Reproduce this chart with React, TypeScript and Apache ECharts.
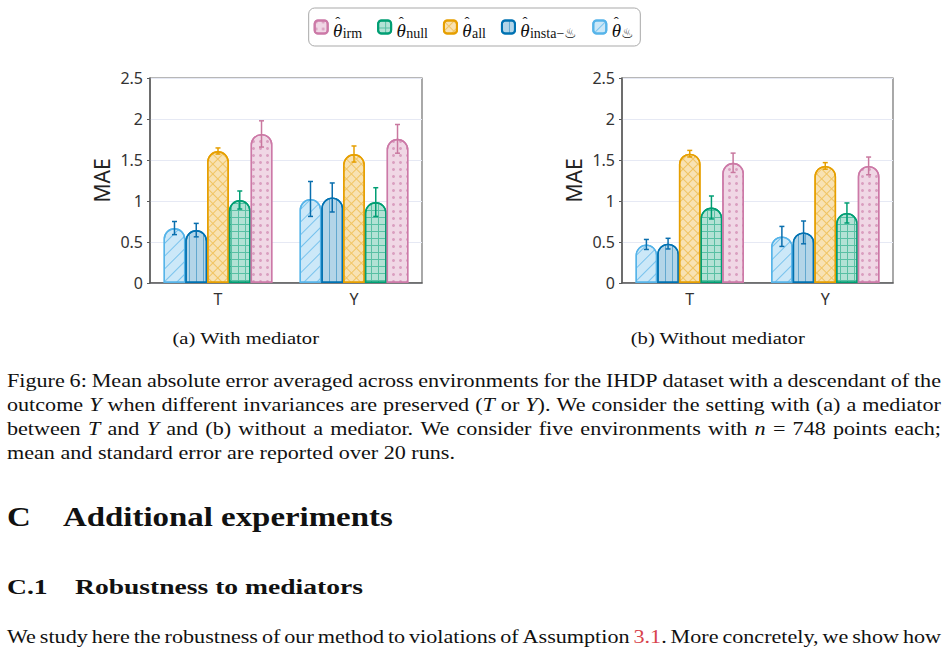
import React, { useEffect, useRef } from 'react';
import * as echarts from 'echarts';

// ---- data -------------------------------------------------------------
const categories = ['T', 'Y'];
// bar order inside each group, left to right
const methodNames = ['♨', 'insta−♨', 'all', 'null', 'irm'];
const legendOrder = ['irm', 'null', 'all', 'insta−♨', '♨'];
const yTickValues = [0, 0.5, 1, 1.5, 2, 2.5];

// (a) with mediator: mean MAE and standard error
const withMedPot = [0.67, 1.025];
const withMedInsta = [0.645, 1.043];
const withMedAll = [1.61, 1.573];
const withMedNull = [1.012, 0.987];
const withMedIrm = [1.818, 1.758];
const withMedPotErr = [0.08, 0.213];
const withMedInstaErr = [0.082, 0.177];
const withMedAllErr = [0.037, 0.098];
const withMedNullErr = [0.11, 0.175];
const withMedIrmErr = [0.16, 0.175];

// (b) without mediator
const noMedPot = [0.47, 0.568];
const noMedInsta = [0.48, 0.617];
const noMedAll = [1.577, 1.428];
const noMedNull = [0.921, 0.854];
const noMedIrm = [1.466, 1.428];
const noMedPotErr = [0.061, 0.122];
const noMedInstaErr = [0.065, 0.139];
const noMedAllErr = [0.04, 0.04];
const noMedNullErr = [0.14, 0.122];
const noMedIrmErr = [0.118, 0.108];

const subCaptions = ['(a) With mediator', '(b) Without mediator'];
// '*' toggles italic (math), '~' toggles link colour
const captionLines = [
  'Figure 6: Mean absolute error averaged across environments for the IHDP dataset with a descendant of the',
  'outcome *Y* when different invariances are preserved (*T* or *Y*). We consider the setting with (a) a mediator',
  'between *T* and *Y* and (b) without a mediator. We consider five environments with *n* = 748 points each;',
  'mean and standard error are reported over 20 runs.',
];
const sectionTitle = ['C', 'Additional experiments'];
const subsectionTitle = ['C.1', 'Robustness to mediators'];
const bodyLine =
  'We study here the robustness of our method to violations of Assumption ~3.1~. More concretely, we show how';

// ---- styling ------------------------------------------------------------
const lineColors = ['#56B4E9', '#0072B2', '#E69F00', '#009E73', '#CC79A7'];
const fillColors = ['#cce8f8', '#b3d5e8', '#f8e2b3', '#b3e2d5', '#f0d7e5'];
const errColors = ['#0a6fae', '#0a6fae', '#E69F00', '#009E73', '#c9789f'];
const decals: any[] = [
  { symbol: 'rect', symbolSize: 1, dashArrayX: [1, 0], dashArrayY: [1, 8], rotation: -Math.PI / 4, color: 'rgba(86,180,233,0.7)' },
  { symbol: 'rect', symbolSize: 1, dashArrayX: [1, 6], dashArrayY: [1, 0], color: 'rgba(0,114,178,0.45)' },
  { symbol: 'rect', symbolSize: 1, dashArrayX: [[7, 0], [1, 6]], dashArrayY: [1, 0, 6, 0], rotation: Math.PI / 4, color: 'rgba(230,159,0,0.45)' },
  { symbol: 'rect', symbolSize: 1, dashArrayX: [[7, 0], [1, 6]], dashArrayY: [1, 0, 6, 0], color: 'rgba(0,158,115,0.5)' },
  { symbol: 'circle', symbolSize: 1, dashArrayX: [3, 4], dashArrayY: [3, 4], color: 'rgba(204,121,167,0.6)' },
];

const SERIF = '"Liberation Serif", "Times New Roman", serif';
const SANS = '"Noto Sans", "Open Sans", sans-serif';

const grids = [
  { left: 150, top: 78, width: 272, height: 205 },
  { left: 622, top: 78, width: 271, height: 205 },
];

function fontStr(size: number, italic = false, bold = false) {
  return `${italic ? 'italic ' : ''}${bold ? 'bold ' : ''}${size}px ${SERIF}`;
}

type Run = { t: string; it: boolean; red: boolean };

function parseWords(line: string): Run[][] {
  let it = false;
  let red = false;
  return line.split(' ').map((word) => {
    const runs: Run[] = [];
    let cur = '';
    for (const ch of word) {
      if (ch === '*' || ch === '~') {
        if (cur) runs.push({ t: cur, it, red });
        cur = '';
        if (ch === '*') it = !it;
        else red = !red;
      } else cur += ch;
    }
    if (cur) runs.push({ t: cur, it, red });
    return runs;
  });
}

export default function App() {
  const ref = useRef<HTMLDivElement>(null);

  useEffect(() => {
    if (!ref.current) return;
    const chart = echarts.init(ref.current, undefined, { renderer: 'svg', width: 948, height: 649 });

    const ctx = document.createElement('canvas').getContext('2d')!;
    const measure = (t: string, font: string) => {
      ctx.font = font;
      return ctx.measureText(t).width;
    };

    const textEl = (t: string, x: number, y: number, font: string, sx: number, fill = '#111') => ({
      type: 'text',
      x,
      y,
      scaleX: sx,
      silent: true,
      style: { text: t, font, fill, align: 'left', verticalAlign: 'middle' },
    });

    const graphics: any[] = [];

    // paragraph lines, justified between x0 and x1
    const capSize = 19;
    const capSx = 448 / measure(captionLines[3], fontStr(capSize));
    const layoutLine = (line: string, y: number, justify: boolean) => {
      const words = parseWords(line);
      const widths = words.map((w) =>
        w.reduce((s, r) => s + measure(r.t, fontStr(capSize, r.it)) * capSx, 0)
      );
      const total = widths.reduce((a, b) => a + b, 0);
      const x0 = 7;
      const x1 = 941;
      const gap = justify ? (x1 - x0 - total) / (words.length - 1) : measure(' ', fontStr(capSize)) * capSx;
      let x = x0;
      words.forEach((w, i) => {
        let xx = x;
        w.forEach((r) => {
          const f = fontStr(capSize, r.it);
          graphics.push(textEl(r.t, xx, y, f, capSx, r.red ? '#d8434b' : '#111'));
          xx += measure(r.t, f) * capSx;
        });
        x += widths[i] + gap;
      });
    };
    const capY = [381, 405, 428.5, 452.5];
    captionLines.forEach((l, i) => layoutLine(l, capY[i], i < captionLines.length - 1));
    layoutLine(bodyLine, 637, true);

    // sub-captions below each panel
    const subSize = 17;
    const subSx = 147 / measure(subCaptions[0], fontStr(subSize));
    const subCenters = [246, 718];
    subCaptions.forEach((s, i) => {
      const w = measure(s, fontStr(subSize)) * subSx;
      graphics.push(textEl(s, subCenters[i] - w / 2, 338, fontStr(subSize), subSx));
    });

    // section headings
    const secFont = fontStr(28, false, true);
    const secSx = 330 / measure(sectionTitle[1], secFont);
    graphics.push(textEl(sectionTitle[0], 7, 516.5, secFont, secSx));
    graphics.push(textEl(sectionTitle[1], 63, 516.5, secFont, secSx));
    const subsecFont = fontStr(21, false, true);
    const subsecSx = 288 / measure(subsectionTitle[1], subsecFont);
    graphics.push(textEl(subsectionTitle[0], 7, 587, subsecFont, subsecSx));
    graphics.push(textEl(subsectionTitle[1], 75, 587, subsecFont, subsecSx));

    const panels = [
      {
        means: [withMedPot, withMedInsta, withMedAll, withMedNull, withMedIrm],
        errs: [withMedPotErr, withMedInstaErr, withMedAllErr, withMedNullErr, withMedIrmErr],
      },
      {
        means: [noMedPot, noMedInsta, noMedAll, noMedNull, noMedIrm],
        errs: [noMedPotErr, noMedInstaErr, noMedAllErr, noMedNullErr, noMedIrmErr],
      },
    ];

    const errRender = (params: any, api: any) => {
      const cat = api.value(0);
      const mean = api.value(1);
      const err = api.value(2);
      const k = api.value(3);
      const band = api.size([1, 0])[0];
      const groupW = band * 0.8;
      const bw = groupW / methodNames.length;
      const cx = api.coord([cat, 0])[0] - groupW / 2 + bw * (k + 0.5);
      const yTop = api.coord([cat, mean + err])[1];
      const yBot = api.coord([cat, mean - err])[1];
      const st = { stroke: errColors[k], lineWidth: 1.5 };
      return {
        type: 'group',
        children: [
          { type: 'line', shape: { x1: cx, y1: yTop, x2: cx, y2: yBot }, style: st },
          { type: 'line', shape: { x1: cx - 2.5, y1: yTop, x2: cx + 2.5, y2: yTop }, style: st },
          { type: 'line', shape: { x1: cx - 2.5, y1: yBot, x2: cx + 2.5, y2: yBot }, style: st },
        ],
      };
    };

    const series: any[] = [];
    panels.forEach((p, pi) => {
      methodNames.forEach((name, k) => {
        series.push({
          type: 'bar',
          name,
          xAxisIndex: pi,
          yAxisIndex: pi,
          data: p.means[k],
          barGap: '0%',
          barCategoryGap: '20%',
          itemStyle: {
            color: fillColors[k],
            borderColor: lineColors[k],
            borderWidth: 1.4,
            borderRadius: [10.8, 10.8, 0, 0],
            decal: decals[k],
          },
          emphasis: { disabled: true },
        });
      });
      const errData: number[][] = [];
      methodNames.forEach((_, k) => {
        categories.forEach((_c, ci) => errData.push([ci, p.means[k][ci], p.errs[k][ci], k]));
      });
      series.push({
        type: 'custom',
        xAxisIndex: pi,
        yAxisIndex: pi,
        z: 5,
        silent: true,
        data: errData,
        encode: { x: 0, y: 1 },
        renderItem: errRender,
      });
    });

    // legend label: theta with a hat stacked over it, then the subscript
    const legendRich = {
      sp: { align: 'center', width: 5, fontSize: 4 },
      th: { align: 'center', width: 0.01, fontFamily: SERIF, fontStyle: 'italic', fontSize: 19, color: '#111', lineHeight: 26, verticalAlign: 'bottom' },
      hat: { align: 'center', width: 0.01, fontFamily: SERIF, fontSize: 15, color: '#111', lineHeight: 17, verticalAlign: 'top' },
      sub: { align: 'center', fontFamily: SERIF, fontSize: 14, color: '#111', lineHeight: 15, verticalAlign: 'bottom' },
    };

    const axisColor = '#5a5a5a';
    const option: any = {
      animation: false,
      backgroundColor: '#ffffff',
      legend: {
        data: legendOrder,
        top: 8,
        left: 'center',
        icon: 'roundRect',
        itemWidth: 13,
        itemHeight: 13,
        itemGap: 15,
        padding: [6, 6, 6, 5],
        borderColor: '#a9a9a9',
        borderWidth: 1,
        borderRadius: 6,
        formatter: (name: string) => `{sp| }{th|θ}{hat|ˆ}{sp| }{sub|${name}}`,
        textStyle: { rich: legendRich },
      },
      grid: grids.map((g) => ({
        ...g,
        show: true,
        borderColor: '#707070',
        borderWidth: 1.2,
        backgroundColor: 'transparent',
      })),
      xAxis: grids.map((_, i) => ({
        gridIndex: i,
        type: 'category',
        data: categories,
        axisLine: { lineStyle: { color: axisColor, width: 1.5 } },
        axisTick: { alignWithLabel: true, length: 3, lineStyle: { color: axisColor } },
        axisLabel: { fontFamily: SANS, fontSize: 16, color: '#333', margin: 8 },
      })),
      yAxis: grids.map((_, i) => ({
        gridIndex: i,
        type: 'value',
        min: yTickValues[0],
        max: yTickValues[yTickValues.length - 1],
        interval: yTickValues[1] - yTickValues[0],
        name: 'MAE',
        nameLocation: 'middle',
        nameGap: 38,
        nameTextStyle: { fontFamily: SANS, fontSize: 21, color: '#222' },
        axisLine: { show: true, lineStyle: { color: axisColor, width: 1.5 } },
        axisTick: { show: true, length: 3, lineStyle: { color: axisColor } },
        splitLine: { lineStyle: { color: '#e6e9f4', width: 1 } },
        axisLabel: { fontFamily: SANS, fontSize: 16, color: '#333', margin: 7 },
      })),
      series,
      graphic: graphics,
    };

    chart.setOption(option);
    return () => chart.dispose();
  }, []);

  return (
    <div
      ref={ref}
      style={{ position: 'absolute', left: 0, top: 0, width: 948, height: 649, background: '#fff' }}
    />
  );
}
